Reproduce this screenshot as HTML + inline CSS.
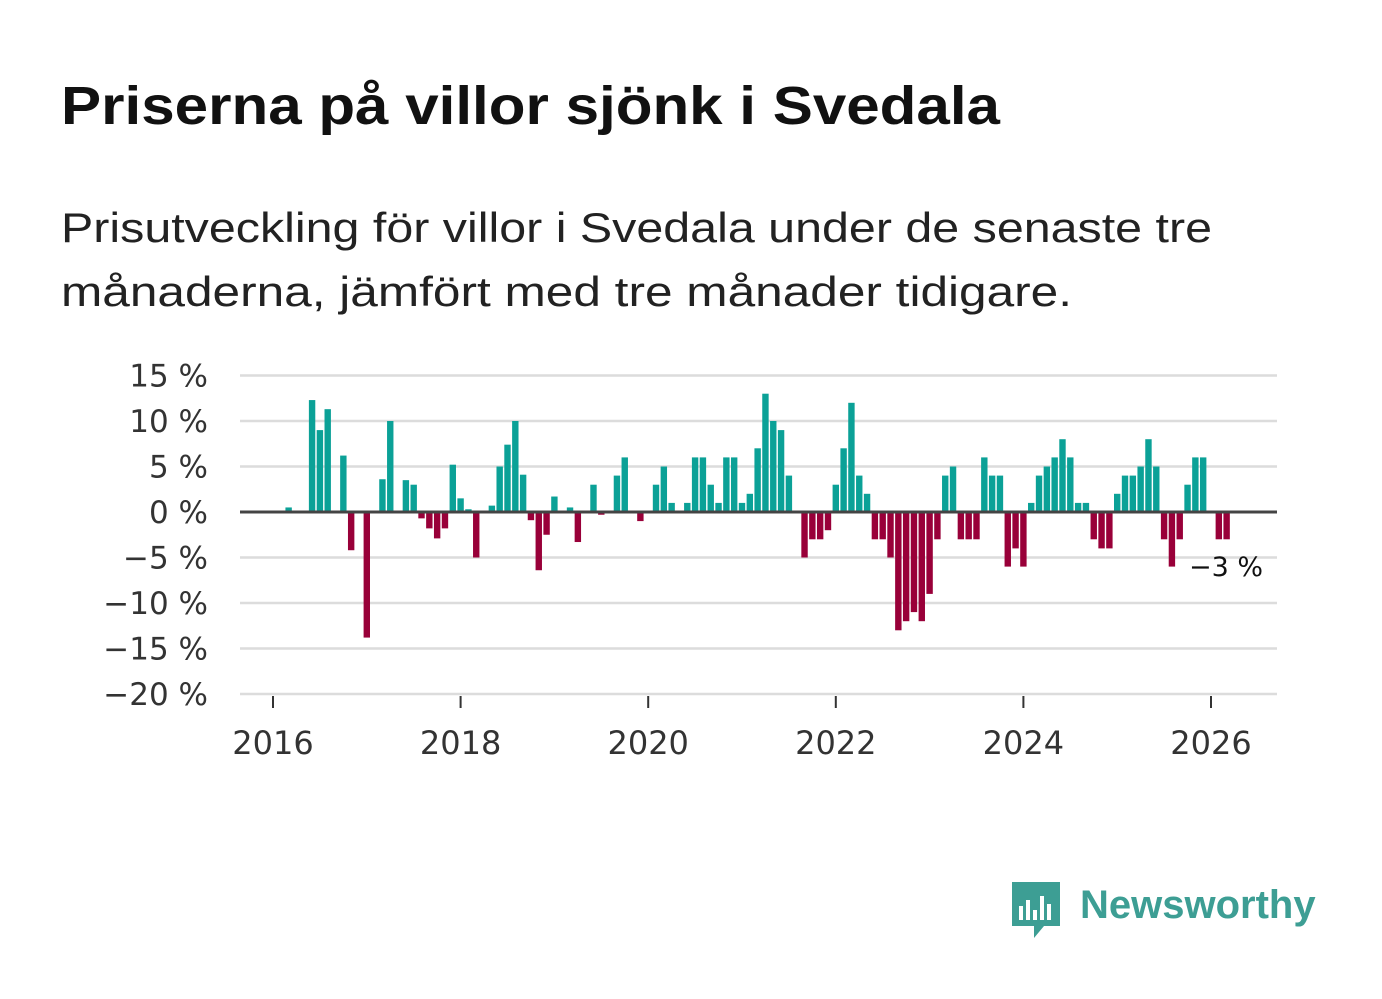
<!DOCTYPE html>
<html><head><meta charset="utf-8"><style>
body{margin:0;background:#fff;font-family:"Liberation Sans","DejaVu Sans",sans-serif;}
#wrap{position:relative;width:1382px;height:999px;overflow:hidden;}
</style></head><body>
<div id="wrap">
<svg width="1382" height="340" style="position:absolute;left:0;top:0">
<text x="61" y="124" font-size="54" font-weight="bold" fill="#111" textLength="939" lengthAdjust="spacingAndGlyphs" font-family="Liberation Sans, sans-serif">Priserna på villor sjönk i Svedala</text>
<g font-size="42" fill="#222" font-family="Liberation Sans, sans-serif">
<text x="61" y="242" textLength="1151" lengthAdjust="spacingAndGlyphs">Prisutveckling för villor i Svedala under de senaste tre</text>
<text x="61" y="306" textLength="1011" lengthAdjust="spacingAndGlyphs">månaderna, jämfört med tre månader tidigare.</text>
</g>
</svg>
<svg id="chart" width="1382" height="999" style="position:absolute;left:0;top:0"></svg>
</div>
<script>
const yTicks=[15,10,5,0,-5,-10,-15,-20];
const yTickLabels=["15 %","10 %","5 %","0 %","−5 %","−10 %","−15 %","−20 %"];
const xYears=[2016,2018,2020,2022,2024,2026];
const values=[0,0,0.5,0,0,12.3,9,11.3,0,6.2,-4.2,0,-13.8,0,3.6,10,0,3.5,3,-0.7,-1.8,-2.9,-1.8,5.2,1.5,0.3,-5,0,0.7,5,7.4,10,4.1,-0.9,-6.4,-2.5,1.7,0,0.5,-3.3,0,3,-0.3,0,4,6,0,-1,0,3,5,1,0,1,6,6,3,1,6,6,1,2,7,13,10,9,4,0,-5,-3,-3,-2,3,7,12,4,2,-3,-3,-5,-13,-12,-11,-12,-9,-3,4,5,-3,-3,-3,6,4,4,-6,-4,-6,1,4,5,6,8,6,1,1,-3,-4,-4,2,4,4,5,8,5,-3,-6,-3,3,6,6,0,-3,-3];
const lastLabel="−3 %";
const svg=document.getElementById('chart');
const NS='http://www.w3.org/2000/svg';
const FONT='DejaVu Sans, sans-serif';
const x0=240,x1=1277;
function y(v){return 512-v*9.1;}
function xm(i){return 273+i*(93.8/12);}
function el(t,a){const e=document.createElementNS(NS,t);for(const k in a)e.setAttribute(k,a[k]);svg.appendChild(e);return e;}
yTicks.forEach((t,i)=>{
 if(t!==0){const l=el('line',{x1:x0,x2:x1,y1:y(t),y2:y(t),stroke:'#dcdcdc','stroke-width':2.5});
 
 }
 const tx=el('text',{x:208,y:y(t)+11,'text-anchor':'end','font-size':31,fill:'#333','font-family':FONT});
 tx.textContent=yTickLabels[i];
 
 
});
values.forEach((v,i)=>{
 if(v===0)return;
 const r=el('rect',{x:xm(i)-3.2,width:6.4,y:Math.min(y(v),y(0)),height:Math.abs(y(v)-y(0)),fill:v>0?'#0ba197':'#990039'});
 
 
});
const z=el('line',{x1:x0,x2:x1,y1:y(0),y2:y(0),stroke:'#444','stroke-width':3});


xYears.forEach(yr=>{
 const xx=xm((yr-2016)*12);
 const t=el('line',{x1:xx,x2:xx,y1:696,y2:708,stroke:'#333','stroke-width':2});
 
 
 const tx=el('text',{x:xx,y:754,'text-anchor':'middle','font-size':32,fill:'#333','font-family':FONT});
 tx.textContent=yr;
 
 
});
const lb=el('text',{x:1189,y:576,'font-size':27,fill:'#111','font-family':FONT});
lb.textContent=lastLabel;


const g=el('g',{});


const p=document.createElementNS(NS,'path');
p.setAttribute('d','M1012 882h48v44h-16l-10 12v-12h-22z');p.setAttribute('fill','#3d9e94');g.appendChild(p);
[[1019,906,4,14],[1026,900,4,20],[1033,910,4,10],[1040,896,4,24],[1047,904,4,16]].forEach(b=>{const r=document.createElementNS(NS,'rect');r.setAttribute('x',b[0]);r.setAttribute('y',b[1]);r.setAttribute('width',b[2]);r.setAttribute('height',b[3]);r.setAttribute('fill','#fff');g.appendChild(r);});
const lt=document.createElementNS(NS,'text');lt.setAttribute('x',1080);lt.setAttribute('y',918);lt.setAttribute('font-size',40);lt.setAttribute('font-weight','bold');lt.setAttribute('fill','#3d9e94');lt.setAttribute('font-family','Liberation Sans, sans-serif');lt.textContent='Newsworthy';g.appendChild(lt);
</script>
</body></html>
